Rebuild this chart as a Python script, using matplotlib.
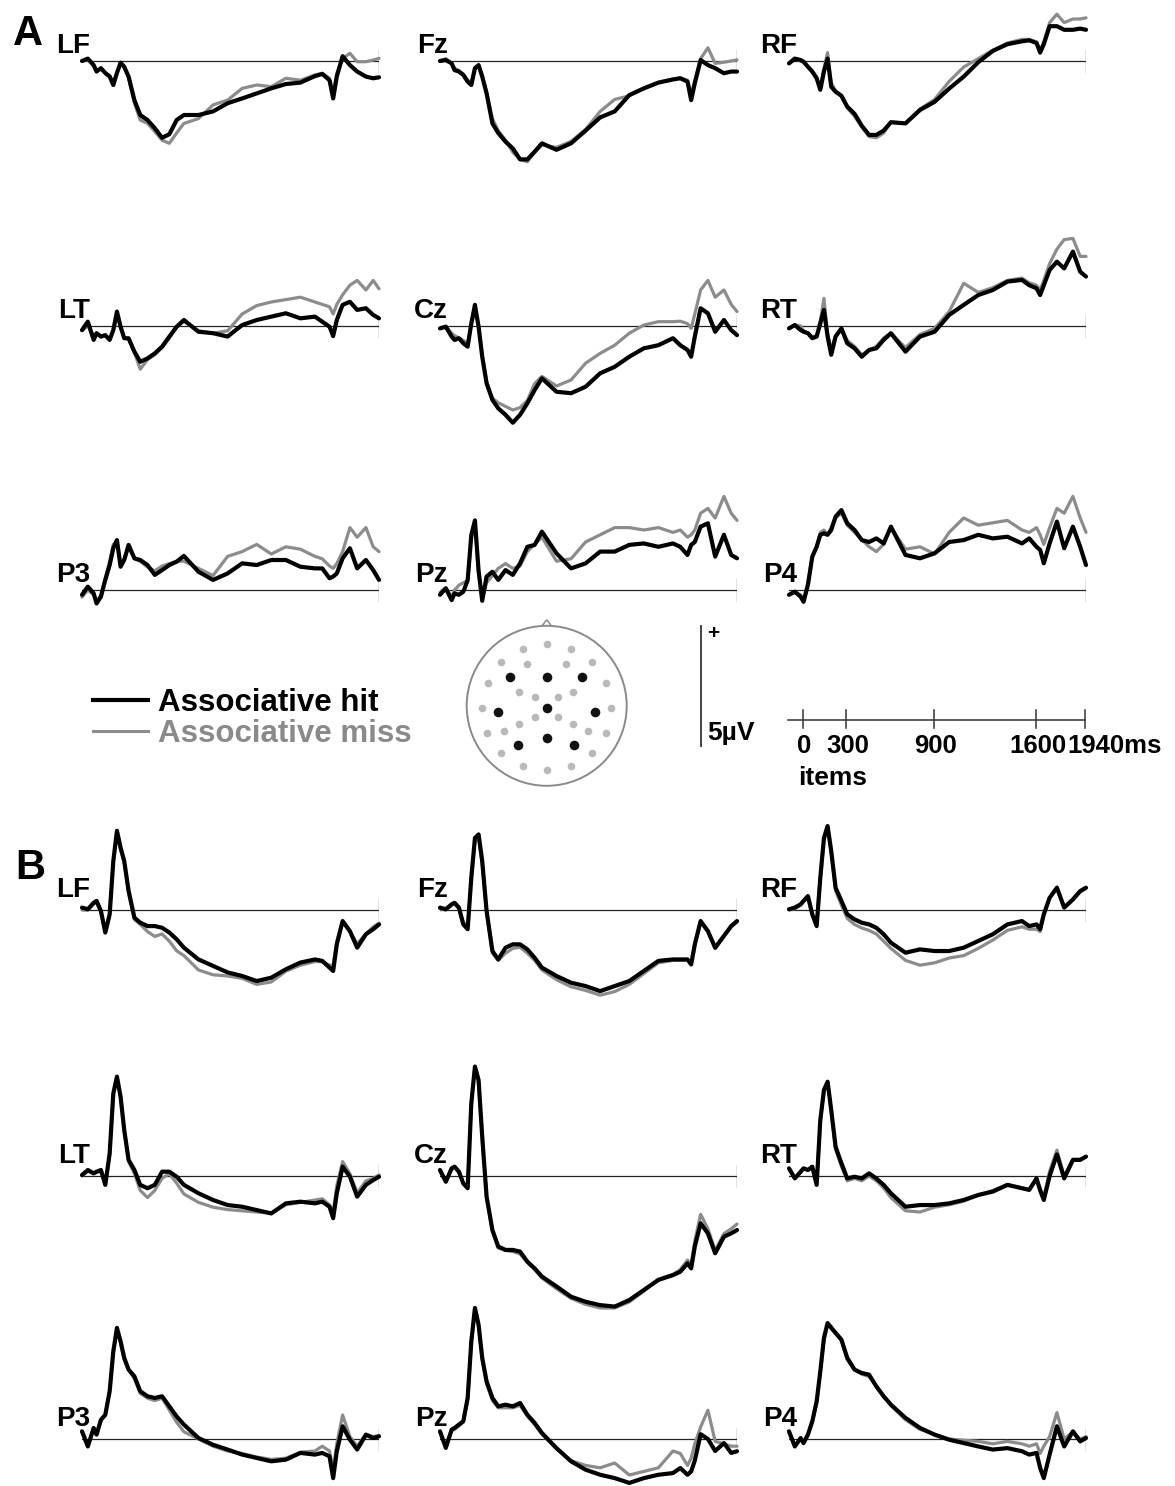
import matplotlib
matplotlib.use('Agg')
import matplotlib.pyplot as plt
import matplotlib.transforms as mtransforms
from matplotlib.lines import Line2D
from matplotlib.patches import Circle, Polygon

plt.rcParams['font.family'] = ['Liberation Sans', 'DejaVu Sans']
plt.rcParams['font.weight'] = 'bold'

# ---------------- data (µV, positive up) ----------------
time_ms = [-100, -60, -20, 0, 30, 60, 90, 115, 140, 165, 190, 220, 260, 300,
           350, 400, 450, 500, 550, 600, 700, 800, 900, 1000, 1100, 1200, 1300,
           1400, 1500, 1550, 1600, 1625, 1650, 1690, 1740, 1790, 1850, 1900, 1940]

# Panel A
A_LF_hit = [0.0, 0.1, -0.17, -0.44, -0.3, -0.5, -0.65, -1.0, -0.5, -0.07, -0.24, -0.65, -1.63, -2.25, -2.46, -2.8, -3.2, -3.05, -2.46, -2.25, -2.25, -2.1, -1.76, -1.56, -1.35, -1.14, -0.96, -0.9, -0.63, -0.54, -0.8, -1.56, -0.65, 0.2, -0.17, -0.44, -0.65, -0.72, -0.68]
A_LF_miss = [0.0, 0.05, -0.2, -0.4, -0.3, -0.5, -0.6, -0.9, -0.5, -0.1, -0.25, -0.7, -1.76, -2.46, -2.6, -2.94, -3.3, -3.43, -3.0, -2.6, -2.4, -1.83, -1.63, -1.14, -1.0, -1.07, -0.72, -0.8, -0.58, -0.51, -0.72, -1.35, -0.51, 0.1, 0.32, -0.03, -0.03, 0.04, 0.11]
A_Fz_hit = [0.0, 0.04, -0.1, -0.38, -0.44, -0.58, -0.86, -1.0, -0.3, -0.17, -0.65, -1.35, -2.6, -3.0, -3.36, -3.64, -4.1, -4.1, -3.78, -3.43, -3.7, -3.43, -2.9, -2.35, -2.1, -1.42, -1.14, -0.9, -0.77, -0.72, -0.86, -1.63, -0.93, 0.04, -0.17, -0.3, -0.51, -0.44, -0.44]
A_Fz_miss = [0.0, 0.1, -0.1, -0.3, -0.4, -0.55, -0.8, -0.9, -0.3, -0.2, -0.6, -1.3, -2.4, -2.9, -3.3, -3.8, -4.1, -4.2, -3.8, -3.5, -3.6, -3.35, -2.85, -2.1, -1.6, -1.45, -1.15, -0.9, -0.75, -0.7, -0.8, -1.4, -0.8, 0.1, 0.55, -0.1, -0.05, 0.0, 0.05]
A_RF_hit = [-0.1, 0.1, 0.04, -0.03, -0.24, -0.44, -0.72, -1.2, -0.44, 0.1, -1.07, -1.28, -1.45, -1.9, -2.2, -2.7, -3.08, -3.08, -2.9, -2.55, -2.6, -2.04, -1.7, -1.15, -0.65, -0.05, 0.42, 0.7, 0.82, 0.86, 0.75, 0.35, 0.7, 1.45, 1.45, 1.3, 1.3, 1.35, 1.3]
A_RF_miss = [-0.1, 0.1, 0.0, -0.05, -0.25, -0.45, -0.7, -1.1, -0.3, 0.35, -0.9, -1.25, -1.45, -1.95, -2.3, -2.75, -3.15, -3.2, -3.0, -2.55, -2.6, -2.0, -1.6, -0.85, -0.25, 0.1, 0.45, 0.75, 0.9, 0.9, 0.8, 0.45, 0.8, 1.6, 1.95, 1.6, 1.75, 1.75, 1.8]
A_LT_hit = [-0.17, 0.18, -0.58, -0.3, -0.44, -0.38, -0.58, -0.17, 0.6, -0.03, -0.51, -0.51, -1.07, -1.49, -1.35, -1.14, -0.86, -0.44, -0.03, 0.25, -0.24, -0.3, -0.44, 0.04, 0.25, 0.39, 0.53, 0.32, 0.39, 0.18, -0.03, -0.42, 0.25, 0.88, 1.01, 0.67, 0.74, 0.46, 0.32]
A_LT_miss = [-0.2, 0.0, -0.4, -0.3, -0.45, -0.4, -0.55, -0.2, 0.5, -0.05, -0.5, -0.55, -1.1, -1.8, -1.4, -1.2, -0.9, -0.5, -0.05, 0.2, -0.2, -0.3, -0.2, 0.5, 0.85, 1.0, 1.1, 1.2, 1.0, 0.9, 0.8, 0.5, 0.9, 1.3, 1.7, 1.9, 1.5, 1.9, 1.55]
A_Cz_hit = [-0.1, -0.03, -0.44, -0.58, -0.51, -0.72, -0.86, 0.11, 0.88, -0.03, -1.28, -2.39, -3.08, -3.43, -3.7, -4.03, -3.7, -3.22, -2.67, -2.18, -2.74, -2.8, -2.53, -1.97, -1.7, -1.28, -0.93, -0.8, -0.51, -0.8, -1.0, -1.28, -0.44, 0.74, 0.53, -0.24, 0.25, -0.17, -0.38]
A_Cz_miss = [-0.1, 0.0, -0.3, -0.4, -0.5, -0.6, -0.7, 0.0, 0.7, 0.0, -1.2, -2.3, -3.0, -3.2, -3.35, -3.5, -3.4, -3.1, -2.4, -2.1, -2.5, -2.25, -1.55, -1.14, -0.8, -0.3, 0.04, 0.18, 0.18, 0.2, 0.1, -0.1, 0.5, 1.5, 1.9, 1.2, 1.5, 0.9, 0.6]
A_RT_hit = [-0.1, 0.04, -0.17, -0.24, -0.3, -0.51, -0.44, 0.11, 0.67, -0.44, -1.2, -0.44, -0.1, -0.72, -0.93, -1.28, -1.0, -0.93, -0.58, -0.3, -1.07, -0.44, -0.24, 0.46, 0.88, 1.29, 1.5, 1.85, 1.92, 1.7, 1.57, 1.29, 1.7, 2.33, 2.68, 2.4, 3.1, 2.26, 2.06]
A_RT_miss = [-0.1, 0.05, 0.0, -0.2, -0.3, -0.45, -0.4, 0.2, 1.15, -0.3, -1.0, -0.4, -0.1, -0.6, -0.85, -1.2, -1.0, -0.85, -0.5, -0.3, -0.9, -0.35, -0.1, 0.6, 1.78, 1.4, 1.6, 1.9, 2.0, 1.8, 1.7, 1.5, 1.9, 2.6, 3.2, 3.6, 3.65, 2.9, 2.9]
A_P3_hit = [-0.2, 0.14, -0.14, -0.56, -0.28, 0.42, 1.04, 1.74, 2.08, 0.97, 1.25, 1.88, 1.32, 1.25, 1.04, 0.63, 0.83, 1.04, 1.18, 1.42, 0.76, 0.42, 0.69, 1.11, 1.04, 1.25, 1.25, 0.97, 0.9, 0.9, 0.49, 0.56, 0.69, 1.32, 1.74, 0.9, 1.25, 0.83, 0.42]
A_P3_miss = [-0.3, 0.0, -0.2, -0.5, -0.2, 0.5, 1.2, 1.9, 2.0, 1.0, 1.3, 1.8, 1.3, 1.2, 0.95, 0.8, 1.0, 1.1, 1.2, 1.2, 0.9, 0.6, 1.4, 1.6, 1.9, 1.5, 1.8, 1.7, 1.4, 1.3, 1.0, 0.9, 1.1, 1.6, 2.6, 2.2, 2.6, 1.8, 1.6]
A_Pz_hit = [-0.2, 0.07, -0.42, -0.14, -0.2, -0.07, 0.4, 2.3, 2.9, 0.8, -0.45, 0.56, 0.76, 0.42, 0.83, 0.63, 1.11, 1.8, 1.88, 2.43, 1.53, 0.9, 1.11, 1.6, 1.6, 1.88, 1.94, 1.8, 1.94, 1.8, 1.46, 1.88, 2.0, 2.64, 2.78, 1.39, 2.3, 1.46, 1.32]
A_Pz_miss = [-0.1, 0.1, -0.3, 0.0, 0.2, 0.3, 0.4, 2.1, 2.7, 0.7, -0.3, 0.3, 0.6, 0.9, 1.1, 0.9, 1.0, 1.6, 1.9, 2.2, 1.2, 1.3, 2.0, 2.3, 2.6, 2.6, 2.5, 2.6, 2.4, 2.5, 2.2, 2.3, 2.5, 3.2, 3.4, 3.0, 3.9, 3.2, 2.9]
A_P4_hit = [-0.2, -0.07, -0.28, -0.49, 0.21, 1.39, 1.8, 2.3, 2.36, 2.3, 2.5, 3.06, 3.33, 2.78, 2.5, 2.08, 2.0, 2.15, 1.94, 2.64, 1.46, 1.32, 1.53, 2.0, 2.08, 2.3, 2.15, 2.22, 1.94, 2.15, 1.8, 1.67, 1.11, 1.94, 2.85, 1.74, 2.64, 1.8, 1.04]
A_P4_miss = [-0.2, -0.1, -0.2, -0.4, 0.3, 1.4, 1.8, 2.4, 2.5, 2.3, 2.6, 3.0, 3.2, 2.7, 2.4, 2.1, 1.8, 1.6, 1.9, 2.6, 1.7, 1.8, 1.5, 2.4, 3.0, 2.7, 2.8, 2.9, 2.5, 2.4, 2.6, 2.3, 1.9, 2.6, 3.4, 3.2, 3.9, 3.0, 2.4]

# Panel B
B_LF_hit = [0.1, 0.03, 0.3, 0.38, -0.04, -0.94, -0.18, 2.04, 3.3, 2.6, 2.04, 0.8, -0.32, -0.53, -0.67, -0.67, -0.74, -0.94, -1.22, -1.57, -2.06, -2.33, -2.6, -2.75, -2.96, -2.82, -2.47, -2.19, -2.06, -2.12, -2.4, -2.54, -1.43, -0.46, -0.88, -1.57, -1.01, -0.8, -0.6]
B_LF_miss = [0.0, 0.0, 0.25, 0.3, -0.1, -0.9, -0.2, 2.0, 3.2, 2.5, 2.0, 0.7, -0.4, -0.6, -0.9, -1.1, -1.0, -1.3, -1.7, -1.9, -2.5, -2.7, -2.75, -2.85, -3.1, -3.0, -2.55, -2.3, -2.15, -2.15, -2.3, -2.3, -1.3, -0.5, -0.9, -1.4, -1.0, -0.7, -0.55]
B_Fz_hit = [0.1, 0.03, 0.24, 0.3, 0.1, -0.6, -0.8, 1.35, 3.0, 3.15, 2.04, -0.04, -1.71, -2.06, -1.57, -1.43, -1.43, -1.64, -1.99, -2.4, -2.75, -3.03, -3.17, -3.38, -3.17, -2.96, -2.54, -2.12, -2.06, -2.06, -2.06, -2.26, -1.43, -0.46, -0.88, -1.57, -1.08, -0.67, -0.46]
B_Fz_miss = [0.05, 0.0, 0.2, 0.25, 0.05, -0.5, -0.7, 1.3, 2.9, 3.0, 1.9, -0.1, -1.8, -2.1, -1.8, -1.6, -1.55, -1.8, -2.1, -2.5, -2.9, -3.2, -3.35, -3.55, -3.4, -3.1, -2.65, -2.2, -2.1, -2.1, -2.1, -2.3, -1.5, -0.5, -0.9, -1.6, -1.1, -0.7, -0.5]
B_RF_hit = [0.03, 0.1, 0.24, 0.38, 0.58, -0.18, -0.67, 1.35, 3.0, 3.5, 2.46, 0.93, 0.38, -0.18, -0.39, -0.53, -0.6, -0.74, -1.01, -1.36, -1.78, -1.64, -1.71, -1.71, -1.57, -1.29, -1.01, -0.6, -0.46, -0.67, -0.6, -0.8, -0.18, 0.51, 0.93, 0.1, 0.44, 0.79, 0.93]
B_RF_miss = [0.0, 0.05, 0.2, 0.35, 0.5, -0.2, -0.6, 1.3, 2.9, 3.4, 2.4, 0.8, 0.2, -0.35, -0.6, -0.75, -0.85, -1.0, -1.3, -1.6, -2.1, -2.3, -2.2, -2.0, -1.9, -1.6, -1.25, -0.85, -0.7, -0.8, -0.8, -0.9, -0.2, 0.5, 0.95, 0.1, 0.45, 0.75, 0.9]
B_LT_hit = [0.04, 0.25, 0.11, 0.18, 0.25, -0.37, 0.94, 3.44, 4.14, 3.3, 1.92, 0.67, 0.25, -0.37, -0.51, -0.37, 0.18, 0.18, -0.03, -0.37, -0.72, -1.0, -1.21, -1.28, -1.42, -1.56, -1.14, -1.07, -1.14, -1.07, -1.28, -1.76, -0.72, 0.39, -0.03, -0.86, -0.37, -0.17, -0.03]
B_LT_miss = [0.0, 0.2, 0.1, 0.15, 0.2, -0.35, 0.9, 3.4, 4.1, 3.3, 1.9, 0.6, 0.1, -0.6, -0.9, -0.6, -0.1, 0.1, -0.3, -0.75, -1.1, -1.3, -1.4, -1.45, -1.5, -1.55, -1.2, -1.1, -1.0, -0.95, -1.2, -1.5, -0.4, 0.6, 0.1, -0.7, -0.2, -0.1, 0.05]
B_Cz_hit = [0.25, -0.24, 0.32, 0.39, 0.18, -0.31, -0.51, 3.03, 4.56, 4.0, 1.64, -0.86, -2.25, -2.94, -3.08, -3.08, -3.15, -3.57, -3.85, -4.19, -4.6, -5.03, -5.24, -5.38, -5.44, -5.17, -4.75, -4.33, -4.13, -3.99, -3.64, -3.85, -2.94, -1.97, -2.39, -3.22, -2.53, -2.39, -2.25]
B_Cz_miss = [0.2, -0.2, 0.3, 0.35, 0.15, -0.3, -0.5, 3.0, 4.5, 3.9, 1.6, -0.9, -2.3, -3.0, -3.1, -3.15, -3.25, -3.6, -3.9, -4.25, -4.7, -5.1, -5.35, -5.5, -5.5, -5.25, -4.8, -4.3, -4.1, -3.9, -3.5, -3.7, -2.7, -1.6, -2.2, -3.1, -2.4, -2.2, -2.0]
B_RT_hit = [0.32, -0.1, 0.18, 0.32, 0.25, 0.39, -0.37, 2.33, 3.58, 3.93, 2.75, 1.22, 0.53, -0.1, -0.03, -0.1, 0.11, -0.1, -0.37, -0.72, -1.28, -1.21, -1.21, -1.14, -1.0, -0.79, -0.65, -0.37, -0.51, -0.58, -0.1, -0.6, -1.0, 0.0, 0.9, -0.1, 0.67, 0.67, 0.81]
B_RT_miss = [0.3, -0.1, 0.15, 0.3, 0.25, 0.35, -0.3, 2.3, 3.5, 3.9, 2.7, 1.1, 0.4, -0.2, -0.1, -0.2, 0.0, -0.2, -0.5, -0.9, -1.45, -1.5, -1.3, -1.2, -1.05, -0.8, -0.6, -0.35, -0.5, -0.55, -0.15, -0.5, -0.9, 0.2, 1.08, 0.0, 0.7, 0.7, 0.8]
B_P3_hit = [0.32, -0.31, 0.46, 0.18, 0.8, 1.01, 1.99, 3.65, 4.63, 4.07, 3.38, 2.89, 2.61, 1.99, 1.78, 1.71, 1.78, 1.36, 0.94, 0.6, 0.04, -0.24, -0.44, -0.65, -0.79, -0.93, -0.86, -0.58, -0.65, -0.58, -0.72, -1.63, -0.51, 0.53, -0.03, -0.44, 0.18, 0.04, 0.11]
B_P3_miss = [0.3, -0.3, 0.4, 0.2, 0.8, 1.0, 2.0, 3.6, 4.55, 4.0, 3.3, 2.9, 2.5, 1.9, 1.7, 1.6, 1.7, 1.2, 0.7, 0.3, 0.0, -0.3, -0.5, -0.6, -0.75, -0.85, -0.8, -0.55, -0.5, -0.3, -0.5, -1.3, -0.2, 1.0, 0.1, -0.3, 0.2, 0.1, 0.15]
B_Pz_hit = [0.32, -0.37, 0.39, 0.46, 0.6, 0.74, 1.71, 4.07, 5.46, 4.76, 3.38, 2.4, 1.71, 1.36, 1.43, 1.36, 1.5, 1.01, 0.67, 0.25, -0.38, -0.93, -1.28, -1.49, -1.63, -1.83, -1.63, -1.49, -1.42, -1.21, -1.49, -1.35, -0.9, 0.2, 0.0, -0.5, -0.17, -0.58, -0.51]
B_Pz_miss = [0.3, -0.3, 0.35, 0.4, 0.55, 0.7, 1.6, 4.0, 5.3, 4.7, 3.3, 2.3, 1.6, 1.3, 1.3, 1.3, 1.4, 0.95, 0.6, 0.2, -0.4, -0.9, -1.1, -1.2, -1.0, -1.5, -1.35, -1.2, -0.5, -0.6, -1.1, -0.8, -0.2, 0.5, 1.2, -0.1, -0.2, -0.3, -0.3]
B_P4_hit = [0.32, -0.31, 0.04, -0.17, 0.18, 0.74, 1.57, 2.82, 4.21, 4.83, 4.63, 4.42, 4.14, 3.38, 2.89, 2.75, 2.68, 2.19, 1.78, 1.43, 0.88, 0.46, 0.18, -0.03, -0.17, -0.31, -0.44, -0.38, -0.51, -0.65, -0.58, -1.21, -1.63, -0.65, 0.53, -0.31, 0.32, -0.1, 0.04]
B_P4_miss = [0.3, -0.3, 0.0, -0.15, 0.2, 0.7, 1.5, 2.8, 4.1, 4.8, 4.7, 4.4, 4.1, 3.3, 2.9, 2.7, 2.6, 2.2, 1.8, 1.4, 0.8, 0.4, 0.2, 0.0, -0.05, -0.1, -0.2, -0.1, -0.2, -0.3, -0.2, -0.6, -0.3, 0.1, 1.1, 0.0, 0.3, 0.0, 0.1]

channel_grid = [['LF', 'Fz', 'RF'], ['LT', 'Cz', 'RT'], ['P3', 'Pz', 'P4']]
legend_labels = ['Associative hit', 'Associative miss']
time_ticks = [0, 300, 900, 1600, 1940]
time_tick_labels = ['0', '300', '900', '1600', '1940ms']
scale_uv = 5

# electrode positions on the schematic head (unit radius)
elec_gray_x = [0, -0.3, 0.3, -0.571, -0.242, 0.238, 0.5625, -0.7375, 0.7375, -0.346, 0.333, -0.146, 0.146, -0.8125, 0.8, -0.146, 0.146, -0.346, 0.333, -0.75, -0.529, 0.521, 0.7375, -0.571, 0.5625, -0.3, 0.3, 0]
elec_gray_y = [0.767, 0.704, 0.704, 0.542, 0.521, 0.521, 0.542, 0.2875, 0.2875, 0.167, 0.167, 0.104, 0.104, -0.025, -0.025, -0.146, -0.146, -0.229, -0.229, -0.3375, -0.317, -0.317, -0.3375, -0.5875, -0.5875, -0.75, -0.75, -0.804]
elec_black_x = [-0.458, 0, 0.4375, -0.6125, 0, 0.604, -0.354, 0, 0.346]
elec_black_y = [0.3625, 0.3625, 0.3625, -0.083, -0.025, -0.083, -0.49, -0.408, -0.49]

data = {'A': {}, 'B': {}}
for _p in 'AB':
    for _row in channel_grid:
        for _ch in _row:
            _h = globals()[f'{_p}_{_ch}_hit']
            _m = globals()[f'{_p}_{_ch}_miss']
            assert len(_h) == len(time_ms), (_p, _ch, 'hit', len(_h))
            assert len(_m) == len(time_ms), (_p, _ch, 'miss', len(_m))
            data[_p][_ch] = (_h, _m)

# ---------------- layout ----------------
W, H, DPI = 1175, 1486, 100
PX_MS = 0.1456      # pixels per millisecond
PX_UV = 24.0        # pixels per microvolt
COL_LEFT = [82, 440, 789]
ROW_BASE = {'A': [61, 326, 590], 'B': [910, 1176, 1439]}
LABEL_DY = {'A': 8, 'B': 13}
HIT_C = '#000000'
MISS_C = '#8c8c8c'
FS_LABEL = 20

fig = plt.figure(figsize=(W / DPI, H / DPI), dpi=DPI)
fig.patch.set_facecolor('white')


def px_axes(left, top, width, height):
    return fig.add_axes([left / W, 1 - (top + height) / H, width / W, height / H])


def ftext(x, y, s, **kw):
    return fig.text(x / W, 1 - y / H, s, **kw)


span_ms = time_ms[-1] - time_ms[0]
for p in 'AB':
    for r in range(3):
        for c in range(3):
            ch = channel_grid[r][c]
            hit, miss = data[p][ch]
            base = ROW_BASE[p][r]
            up = min(5.8, (base - 1) / PX_UV)
            dn = min(6.0, (H - 1 - base) / PX_UV)
            ax = px_axes(COL_LEFT[c], base - up * PX_UV, span_ms * PX_MS, (up + dn) * PX_UV)
            ax.set_xlim(time_ms[0], time_ms[-1])
            ax.set_ylim(-dn, up)
            ax.axis('off')
            ax.plot([time_ms[0], time_ms[-1]], [0, 0], color='#222222', lw=0.9, zorder=1)
            ax.plot([time_ms[-1]] * 2, [-0.47, 0.47], color='#222222', lw=0.9, zorder=1)
            ax.plot(time_ms, miss, color=MISS_C, lw=2.3, clip_on=False, zorder=2,
                    solid_joinstyle='round', solid_capstyle='round')
            ax.plot(time_ms, hit, color=HIT_C, lw=3.0, clip_on=False, zorder=3,
                    solid_joinstyle='round', solid_capstyle='round')
            ftext(COL_LEFT[c] + 8, base - LABEL_DY[p], ch, ha='right', va='baseline',
                  fontsize=FS_LABEL, fontweight='bold')

ftext(13, 45, 'A', fontsize=30, fontweight='bold', va='baseline')
ftext(15, 879, 'B', fontsize=30, fontweight='bold', va='baseline')

# legend
h_hit = Line2D([], [], color=HIT_C, lw=3.0)
h_miss = Line2D([], [], color=MISS_C, lw=2.2)
fig.legend(handles=[h_hit, h_miss], labels=legend_labels, loc='upper left',
           bbox_to_anchor=(93 / W, 1 - 688 / H), frameon=False,
           prop={'weight': 'bold', 'size': 22.5}, labelcolor=[HIT_C, '#8a8a8a'],
           handlelength=1.75, handletextpad=0.32, labelspacing=0.04,
           borderpad=0, borderaxespad=0)

# head schematic
hx, hy, hr = 546.7, 705.8, 80
axh = px_axes(hx - 1.25 * hr, hy - 1.25 * hr, 2.5 * hr, 2.5 * hr)
axh.set_xlim(-1.25, 1.25)
axh.set_ylim(-1.25, 1.25)
axh.axis('off')
axh.add_patch(Polygon([[-0.07, 0.985], [0, 1.075], [0.07, 0.985]], closed=True,
                      fc='white', ec='#8a8a8a', lw=1.1, zorder=1))
axh.add_patch(Circle((0, 0), 1, fc='white', ec='#8a8a8a', lw=1.4, zorder=2))
axh.scatter(elec_gray_x, elec_gray_y, s=30, c='#b9b9b9', linewidths=0, zorder=3)
axh.scatter(elec_black_x, elec_black_y, s=48, c='#111111', linewidths=0, zorder=4)

# voltage scale bar
sb_x, sb_base = 700.7, 746
axs = px_axes(sb_x - 10, sb_base - 5.5 * PX_UV, 20, 6 * PX_UV)
axs.set_xlim(-1, 1)
axs.set_ylim(-0.5, 5.5)
axs.axis('off')
axs.plot([0, 0], [0, scale_uv], color='#333333', lw=1.3)
ftext(713, 634, '+', ha='center', va='center', fontsize=15, fontweight='bold')
ftext(707, 740, f'{scale_uv}µV', va='baseline', fontsize=19, fontweight='bold')

# time axis
ta_left, ta_y = 788, 720
axt = px_axes(ta_left, ta_y - 12, span_ms * PX_MS, 24)
axt.set_xlim(time_ms[0], time_ms[-1])
axt.set_ylim(-0.5, 0.5)
axt.axis('off')
axt.plot([time_ms[0], time_ms[-1]], [0, 0], color='#333333', lw=1.1, clip_on=False)
for t, lab in zip(time_ticks, time_tick_labels):
    axt.plot([t, t], [-0.33, 0.42], color='#333333', lw=1.1, clip_on=False)
    if lab.endswith('ms'):
        tr = mtransforms.offset_copy(axt.transData, fig=fig, x=-18, y=0, units='dots')
        axt.text(t, -1.375, lab, transform=tr, ha='left', va='baseline',
                 fontsize=18.5, fontweight='bold')
    else:
        tr = mtransforms.offset_copy(axt.transData, fig=fig, x=2, y=0, units='dots')
        axt.text(t, -1.375, lab, transform=tr, ha='center', va='baseline',
                 fontsize=18.5, fontweight='bold')
ftext(798, 785, 'items', va='baseline', fontsize=19, fontweight='bold')

fig.savefig('out.png', dpi=DPI, facecolor='white')
